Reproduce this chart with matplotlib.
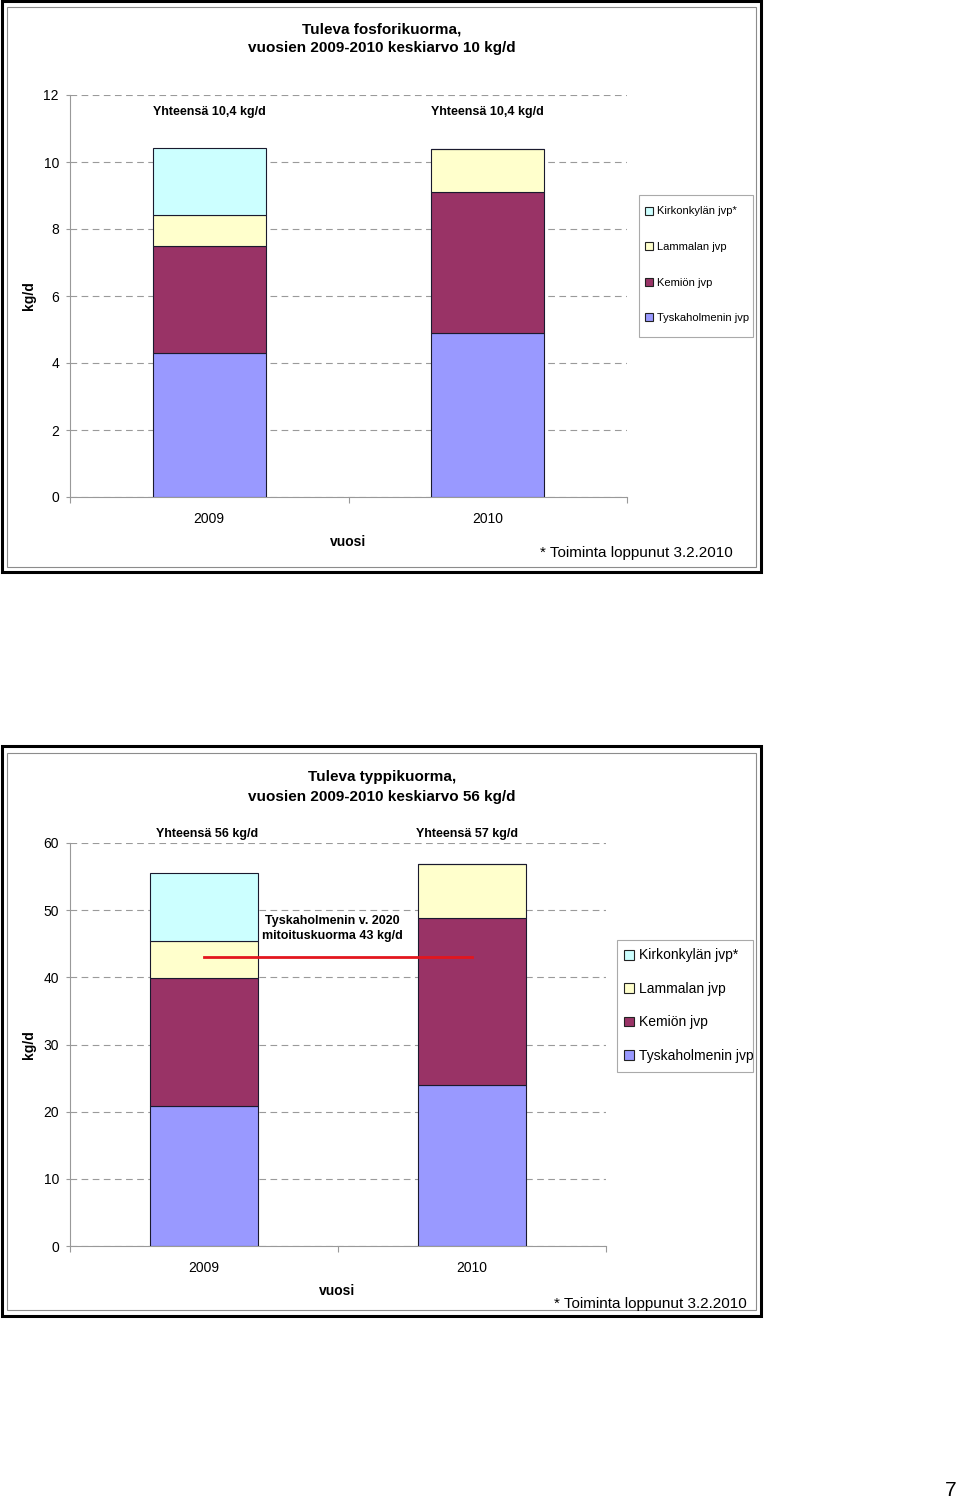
#!/usr/bin/env python3
"""
Tuleva fosfori- ja typpikuorma 2009-2010, pinottu pylväs per jvp.
Output: out.png (960 x 1501)
"""

import numpy as np
import matplotlib
matplotlib.use("Agg")
import matplotlib.pyplot as plt
from matplotlib.patches import Patch, Rectangle

plt.rcParams["font.family"] = ["Liberation Sans", "DejaVu Sans"]

W, H = 960, 1501

YEARS  = ["2009", "2010"]
SERIES = ["Tyskaholmenin jvp", "Kemiön jvp", "Lammalan jvp", "Kirkonkylän jvp*"]
COLORS = ["#9999FF", "#993366", "#FFFFCC", "#CCFFFF"]

# fosfori, kg/d
P_TYSKA   = [4.3, 4.9]
P_KEMIO   = [3.2, 4.2]
P_LAMMALA = [0.93, 1.3]
P_KIRKKO  = [2.0, 0.0]
P_TOTALS  = ["Yhteensä 10,4 kg/d", "Yhteensä 10,4 kg/d"]

# typpi, kg/d
N_TYSKA   = [20.9, 24.0]
N_KEMIO   = [19.0, 24.9]
N_LAMMALA = [5.5, 7.9]
N_KIRKKO  = [10.1, 0.0]
N_TOTALS  = ["Yhteensä 56 kg/d", "Yhteensä 57 kg/d"]
N_DESIGN  = 43   # Tyskaholmenin v. 2020 mitoituskuorma

FOOTNOTE = "* Toiminta loppunut 3.2.2010"


def fx(x):
    return x / W


def fy(y):
    return 1 - y / H


def frame(fig, x0, y0, x1, y1, color, lw):
    fig.add_artist(Rectangle((fx(x0), fy(y1)), fx(x1) - fx(x0), fy(y0) - fy(y1),
                             transform=fig.transFigure, fill=False,
                             edgecolor=color, linewidth=lw))


def draw_chart(ax, stacks, ymax, ystep):
    x = np.arange(len(YEARS))
    bottom = np.zeros(len(YEARS))
    for vals, color in zip(stacks, COLORS):
        ax.bar(x, vals, 0.405, bottom=bottom, color=color,
               edgecolor="#1a1a2e", linewidth=0.8, zorder=3)
        bottom += np.array(vals)

    ax.set_xlim(-0.5, len(YEARS) - 0.5)
    ax.set_ylim(0, ymax)
    ax.set_yticks(np.arange(0, ymax + 1, ystep))
    ax.yaxis.grid(True, linestyle=(0, (6, 4)), color="#9a9a9a", linewidth=0.8)
    ax.set_axisbelow(True)

    for side in ("top", "right"):
        ax.spines[side].set_visible(False)
    for side in ("left", "bottom"):
        ax.spines[side].set_color("#999999")
        ax.spines[side].set_linewidth(0.8)

    ax.tick_params(axis="y", length=3, width=0.8, color="#999999", pad=5, labelsize=10)
    ax.set_xticks(np.arange(-0.5, len(YEARS), 1.0))
    ax.set_xticklabels([])
    ax.set_xticks(x, minor=True)
    ax.set_xticklabels(YEARS, minor=True)
    ax.tick_params(axis="x", which="major", length=4, width=0.8, color="#999999")
    ax.tick_params(axis="x", which="minor", length=0, pad=10.5, labelsize=10)


def add_legend(fig, box, anchor, fontsize, spacing):
    # frame drawn separately so the padding can match the original
    frame(fig, *box, "#aaaaaa", 0.8)
    handles = [Patch(facecolor=c, edgecolor="#222222", linewidth=0.8) for c in COLORS][::-1]
    fig.legend(handles, SERIES[::-1], loc="upper left",
               bbox_to_anchor=(fx(anchor[0]), fy(anchor[1])),
               bbox_transform=fig.transFigure, fontsize=fontsize, frameon=False,
               labelspacing=spacing, handlelength=0.7, handleheight=0.7,
               handletextpad=0.35, borderpad=0, borderaxespad=0)


fig = plt.figure(figsize=(W / 100, H / 100), dpi=100)

# ── Fosfori ──────────────────────────────────────────────────────────────────
frame(fig, 1.5, 1.5, 761, 572, "black", 2.2)
frame(fig, 6.5, 6.5, 756, 567, "#8c8c8c", 0.8)

ax1 = fig.add_axes([fx(70), fy(497), fx(627) - fx(70), fy(95) - fy(497)])
draw_chart(ax1, [P_TYSKA, P_KEMIO, P_LAMMALA, P_KIRKKO], 12, 2)
for i, label in enumerate(P_TOTALS):
    ax1.text(i, 11.5, label, ha="center", va="center", fontsize=9,
             fontweight="bold", clip_on=False)

fig.text(fx(382), fy(38.5), "Tuleva fosforikuorma,\nvuosien 2009-2010 keskiarvo 10 kg/d",
         ha="center", va="center", fontsize=11, fontweight="bold", linespacing=1.45)
fig.text(fx(29), fy(296), "kg/d", rotation=90, ha="center", va="center",
         fontsize=10, fontweight="bold")
fig.text(fx(348), fy(542), "vuosi", ha="center", va="center", fontsize=10, fontweight="bold")
fig.text(fx(733), fy(553), FOOTNOTE, ha="right", va="center", fontsize=11)
add_legend(fig, (639, 195, 753, 337), (645, 206.5), 8, 2.3)

# ── Typpi ────────────────────────────────────────────────────────────────────
frame(fig, 1.5, 745.5, 761, 1315.5, "black", 2.2)
frame(fig, 7, 752.5, 756, 1310, "#8c8c8c", 0.8)

ax2 = fig.add_axes([fx(70), fy(1246), fx(606) - fx(70), fy(843) - fy(1246)])
draw_chart(ax2, [N_TYSKA, N_KEMIO, N_LAMMALA, N_KIRKKO], 60, 10)
for i, (label, dx) in enumerate(zip(N_TOTALS, [0.01, -0.02])):
    ax2.text(i + dx, 61.3, label, ha="center", va="center", fontsize=9,
             fontweight="bold", clip_on=False)

ax2.plot([0, 1], [N_DESIGN, N_DESIGN], color="#E3161E", linewidth=2, zorder=4)
ax2.text(0.48, 47.3, f"Tyskaholmenin v. 2020\nmitoituskuorma {N_DESIGN} kg/d",
         ha="center", va="center", fontsize=9, fontweight="bold",
         linespacing=1.4, zorder=5)

fig.text(fx(382), fy(787), "Tuleva typpikuorma,\nvuosien 2009-2010 keskiarvo 56 kg/d",
         ha="center", va="center", fontsize=11, fontweight="bold", linespacing=1.5)
fig.text(fx(29), fy(1045), "kg/d", rotation=90, ha="center", va="center",
         fontsize=10, fontweight="bold")
fig.text(fx(337), fy(1291), "vuosi", ha="center", va="center", fontsize=10, fontweight="bold")
fig.text(fx(747), fy(1304), FOOTNOTE, ha="right", va="center", fontsize=11)
add_legend(fig, (617, 940, 753, 1072), (624, 948.5), 10, 1.4)

# sivunumero
fig.text(fx(951), fy(1490), "7", ha="center", va="center", fontsize=15)

fig.savefig("out.png", dpi=100)
print("Saved: out.png")
